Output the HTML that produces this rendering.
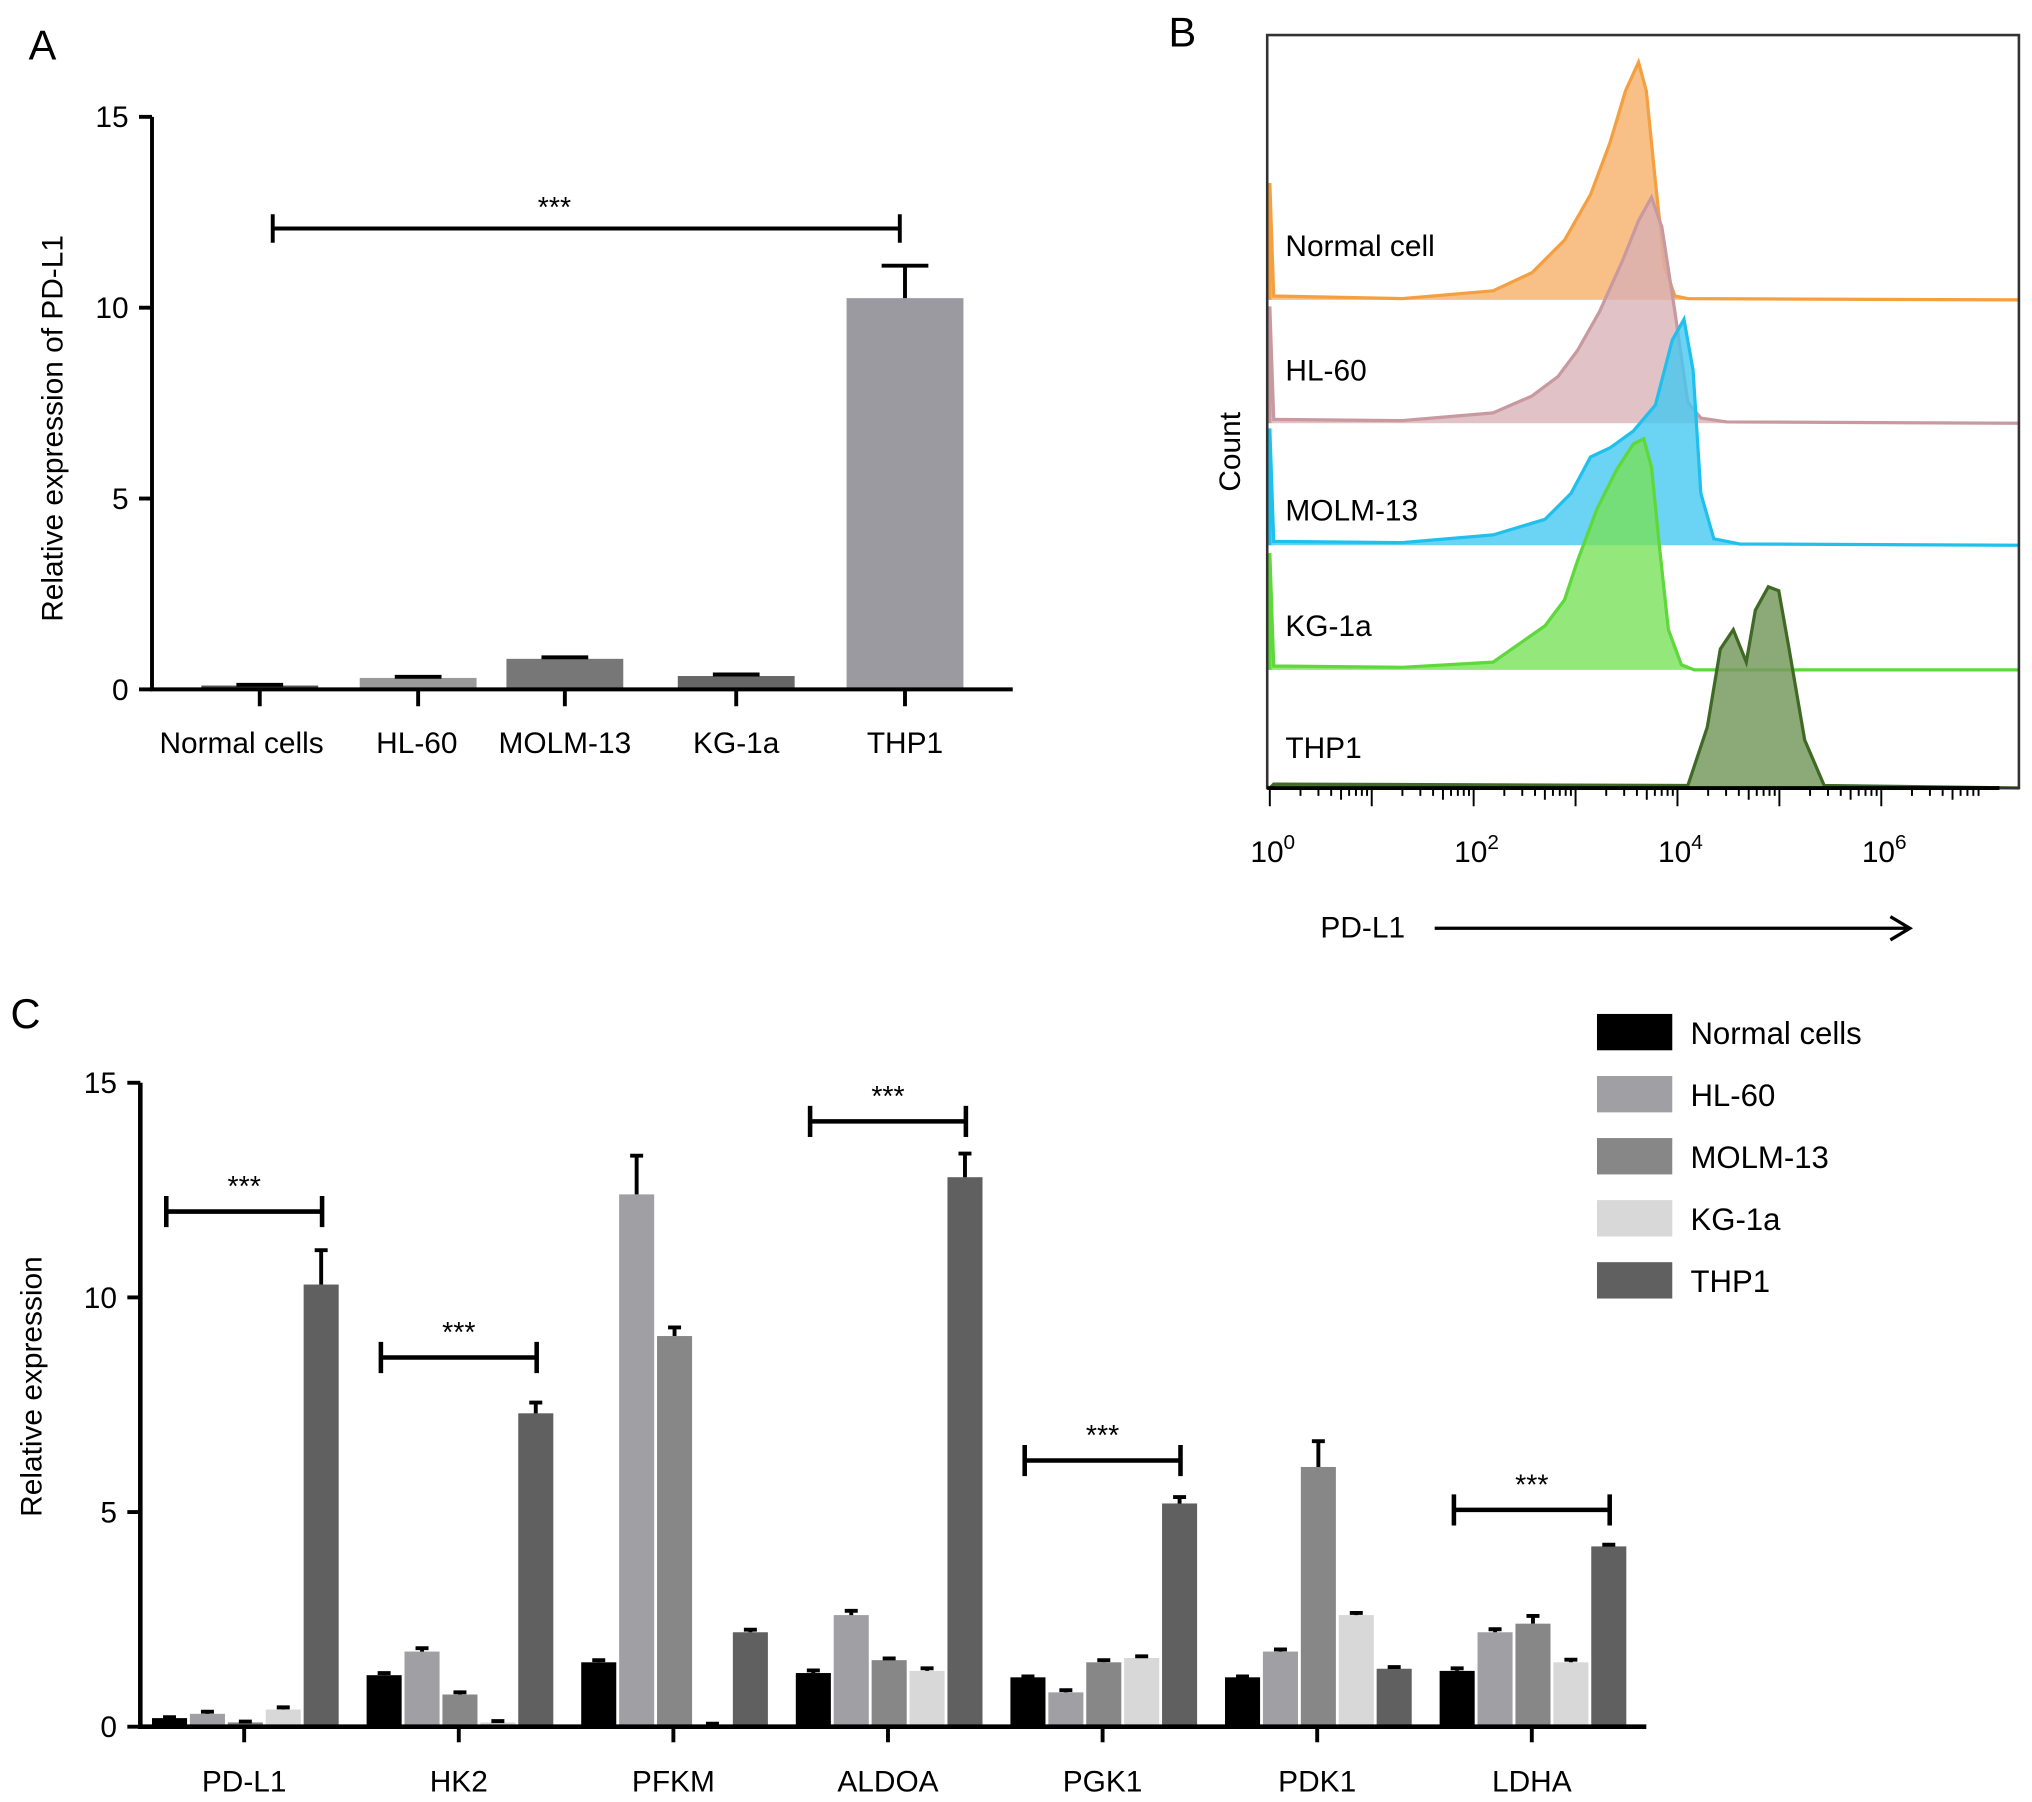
<!DOCTYPE html>
<html><head><meta charset="utf-8"><style>
html,body{margin:0;padding:0;background:#fff;}
svg{display:block;font-family:"Liberation Sans",Arial,sans-serif;}
</style></head><body>
<svg id="fig" width="2032" height="1802" viewBox="0 0 1565 1388" xmlns="http://www.w3.org/2000/svg">
<g id="panelA">
<text x="22" y="46" font-size="32">A</text>
<text transform="translate(48,330) rotate(-90)" text-anchor="middle" font-size="23">Relative expression of PD-L1</text>
</g>
<g id="panelB">
<text x="900" y="36" font-size="32">B</text>
<text transform="translate(955,348) rotate(-90)" text-anchor="middle" font-size="23">Count</text>
</g>
<g id="panelC">
<text x="8" y="792" font-size="32">C</text>
<text transform="translate(32,1068) rotate(-90)" text-anchor="middle" font-size="23">Relative expression</text>
</g>
</svg>
<script>
const NS="http://www.w3.org/2000/svg";
function mk(parent,tag,attrs,text){const e=document.createElementNS(NS,tag);for(const k in attrs)e.setAttribute(k,attrs[k]);if(text!==undefined)e.textContent=text;parent.appendChild(e);return e;}

// ---------- Panel A data ----------
const aCategories=["Normal cells","HL-60","MOLM-13","KG-1a","THP1"];
const aValues=[0.1,0.3,0.8,0.35,10.25];
const aErrors=[0.02,0.03,0.04,0.04,0.85];
const aColors=["#505050","#9a9a9a","#777777","#666666","#9a9aa0"];
const aTicks=[0,5,10,15];

// ---------- Panel C data ----------
const cGenes=["PD-L1","HK2","PFKM","ALDOA","PGK1","PDK1","LDHA"];
const cSeries=["Normal cells","HL-60","MOLM-13","KG-1a","THP1"];
const cNormal=[0.2,1.2,1.5,1.25,1.15,1.15,1.3];
const cHL60=[0.3,1.75,12.4,2.6,0.8,1.75,2.2];
const cMOLM13=[0.1,0.75,9.1,1.55,1.5,6.05,2.4];
const cKG1a=[0.4,0.1,0.05,1.3,1.6,2.6,1.5];
const cTHP1=[10.3,7.3,2.2,12.8,5.2,1.35,4.2];
const cErrNormal=[0.02,0.05,0.05,0.06,0.02,0.02,0.06];
const cErrHL60=[0.05,0.08,0.9,0.1,0.05,0.05,0.07];
const cErrMOLM13=[0.02,0.05,0.2,0.04,0.05,0.6,0.18];
const cErrKG1a=[0.05,0.03,0.02,0.06,0.04,0.05,0.06];
const cErrTHP1=[0.8,0.25,0.06,0.55,0.15,0.04,0.04];
const cSig=[12.0,8.6,null,14.1,6.2,null,5.05];
const cTicks=[0,5,10,15];
const cColors=["#000000","#a0a0a4","#878787","#d8d8d8","#606060"];

// ---------- Panel A ----------
(function(){
const g=document.getElementById('panelA');
const x0=117,x1=780,yb=531,yt=90;
const y=v=>yb-(v/15)*(yb-yt);
const cx=[200,322,435,567,697];
const lx=[186,321,435,567,697];
const bw=90;
aValues.forEach((v,i)=>{
 const r=mk(g,'rect',{x:cx[i]-bw/2,y:y(v),width:bw,height:yb-y(v),fill:aColors[i]});
 
 
 const ey=y(v+aErrors[i]);
 const e=mk(g,'path',{d:`M${cx[i]} ${y(v)} V${ey} M${cx[i]-18} ${ey} H${cx[i]+18}`,stroke:'#000','stroke-width':3,fill:'none'});
 
 
 const t=mk(g,'text',{x:lx[i],y:580,'text-anchor':'middle','font-size':23},aCategories[i]);
 
 
 const tk=mk(g,'line',{x1:cx[i],x2:cx[i],y1:yb,y2:yb+13,stroke:'#000','stroke-width':3});
 
 
});
const ax=mk(g,'path',{d:`M${x0} ${yt} V${yb} H${x1}`,stroke:'#000','stroke-width':3,fill:'none'});


aTicks.forEach(t=>{
 const l=mk(g,'line',{x1:x0-10,x2:x0,y1:y(t),y2:y(t),stroke:'#000','stroke-width':3});
 
 
 const tx=mk(g,'text',{x:x0-18,y:y(t)+8,'text-anchor':'end','font-size':23},t);
 
 
});
const s=mk(g,'path',{d:`M210 165 V187 M210 176 H693 M693 165 V187`,stroke:'#000','stroke-width':3,fill:'none'});


const st=mk(g,'text',{x:427,y:167,'text-anchor':'middle','font-size':22},'***');


})();

// ---------- Panel B (flow histograms) ----------
(function(){
const g=document.getElementById('panelB');
const hists=[
 {n:'Normal cell',b:231,ly:197,f:'rgba(246,170,95,0.75)',s:'#f5a040',p:[[1080,230],[1150,224],[1180,210],[1205,185],[1225,150],[1240,110],[1252,70],[1262,48],[1268,70],[1275,140],[1282,205],[1290,228],[1300,230]]},
 {n:'HL-60',b:326,ly:293,f:'rgba(215,175,180,0.75)',s:'#c89aa0',p:[[1080,324],[1150,318],[1180,305],[1200,290],[1215,270],[1232,240],[1250,200],[1262,170],[1272,152],[1280,175],[1290,240],[1300,310],[1310,322],[1330,325]]},
 {n:'MOLM-13',b:420,ly:401,f:'rgba(70,200,240,0.8)',s:'#20c0ee',p:[[1080,418],[1150,412],[1190,400],[1210,380],[1225,352],[1240,345],[1258,332],[1275,312],[1288,262],[1297,246],[1304,285],[1310,380],[1320,415],[1340,419]]},
 {n:'KG-1a',b:516,ly:490,f:'rgba(120,225,90,0.8)',s:'#5ed83a',p:[[1080,514],[1150,510],[1190,482],[1205,462],[1215,432],[1230,392],[1245,362],[1258,342],[1266,338],[1272,360],[1278,420],[1285,485],[1295,512],[1305,516]]},
 {n:'THP1',b:607,ly:584,f:'rgba(120,155,95,0.85)',s:'#3f6a25',p:[[1300,605],[1315,560],[1325,500],[1335,485],[1345,510],[1352,470],[1362,452],[1370,455],[1378,500],[1390,570],[1405,605]]}
];
hists.forEach((h,i)=>{
 let d=`M978 ${h.b} L978 ${h.b-(i==4?0:90)} L981 ${h.b-3} L${h.p[0][0]} ${h.p[0][1]}`;
 h.p.forEach(q=>d+=` L${q[0]} ${q[1]}`);
 d+=` L1555 ${h.b}`;
 const path=mk(g,'path',{d:d+' Z',fill:h.f,stroke:'none'});
 
 
 const ln=mk(g,'path',{d:d,fill:'none',stroke:h.s,'stroke-width':2.5});
 
 
 const t=mk(g,'text',{x:990,y:h.ly,'font-size':23},h.n);
 
 
});
const box=mk(g,'rect',{x:976,y:27,width:579,height:580,fill:'none',stroke:'#333','stroke-width':2});


const ax=mk(g,'line',{x1:976,x2:1540,y1:607,y2:607,stroke:'#000','stroke-width':3});


const dec=78.5,xo=978;
let td='';
for(let k=0;k<7;k++){for(let m=1;m<10;m++){const xx=xo+(k+Math.log10(m))*dec;if(xx>1540)break;const L=m==1?14:(m==5?9:6);td+=`M${xx} 607 V${607+L} `;}}
const tk=mk(g,'path',{d:td,stroke:'#000','stroke-width':1.5,fill:'none'});


[0,2,4,6].forEach(e=>{
 const t=mk(g,'text',{x:xo+e*dec-15,y:664,'font-size':23},'10');
 
 
 mk(t,'tspan',{dy:-10,'font-size':16},e);
});
const xl=mk(g,'text',{x:1017,y:722,'font-size':23},'PD-L1');


const ar=mk(g,'path',{d:'M1105 715 H1470 M1456 706 L1471 715 L1456 724',stroke:'#000','stroke-width':2.5,fill:'none'});


})();

// ---------- Panel C ----------
(function(){
const g=document.getElementById('panelC');
const x0=108,x1=1268,yb=1330,yt=834;
const y=v=>yb-(v/15)*(yb-yt);
const all=[cNormal,cHL60,cMOLM13,cKG1a,cTHP1];
const errs=[cErrNormal,cErrHL60,cErrMOLM13,cErrKG1a,cErrTHP1];
const cx=i=>188+i*165.3;
const bw=27,step=29.2;
cGenes.forEach((gn,i)=>{
 all.forEach((ser,j)=>{
  const v=ser[i];const bx=cx(i)-71+j*step;
  const r=mk(g,'rect',{x:bx,y:y(v),width:bw,height:yb-y(v),fill:cColors[j]});
  
  
  const m=bx+bw/2,ey=y(v+errs[j][i]);
  const e=mk(g,'path',{d:`M${m} ${y(v)} V${ey} M${m-5} ${ey} H${m+5}`,stroke:'#000','stroke-width':3,fill:'none'});
  
  
 });
 const tk=mk(g,'line',{x1:cx(i),x2:cx(i),y1:yb,y2:yb+12,stroke:'#000','stroke-width':3});
 
 
 const t=mk(g,'text',{x:cx(i),y:1380,'text-anchor':'middle','font-size':23},gn);
 
 
 if(cSig[i]!==null){
  const sy=y(cSig[i]),a=cx(i)-60,b=cx(i)+60;
  const s=mk(g,'path',{d:`M${a} ${sy-12} V${sy+12} M${a} ${sy} H${b} M${b} ${sy-12} V${sy+12}`,stroke:'#000','stroke-width':3.5,fill:'none'});
  
  
  const st=mk(g,'text',{x:cx(i),y:sy-12,'text-anchor':'middle','font-size':22},'***');
  
  
 }
});
const ax=mk(g,'path',{d:`M${x0} ${yt} V${yb} H${x1}`,stroke:'#000','stroke-width':3.5,fill:'none'});


cTicks.forEach(t=>{
 const l=mk(g,'line',{x1:x0-10,x2:x0,y1:y(t),y2:y(t),stroke:'#000','stroke-width':3});
 
 
 const tx=mk(g,'text',{x:x0-18,y:y(t)+8,'text-anchor':'end','font-size':23},t);
 
 
});
cSeries.forEach((s,j)=>{
 const yy=795+j*47.8;
 const r=mk(g,'rect',{x:1230,y:yy-14,width:58,height:28,fill:cColors[j]});
 
 
 const t=mk(g,'text',{x:1302,y:yy+9,'font-size':24},s);
 
 
});
})();
</script>
</body></html>
